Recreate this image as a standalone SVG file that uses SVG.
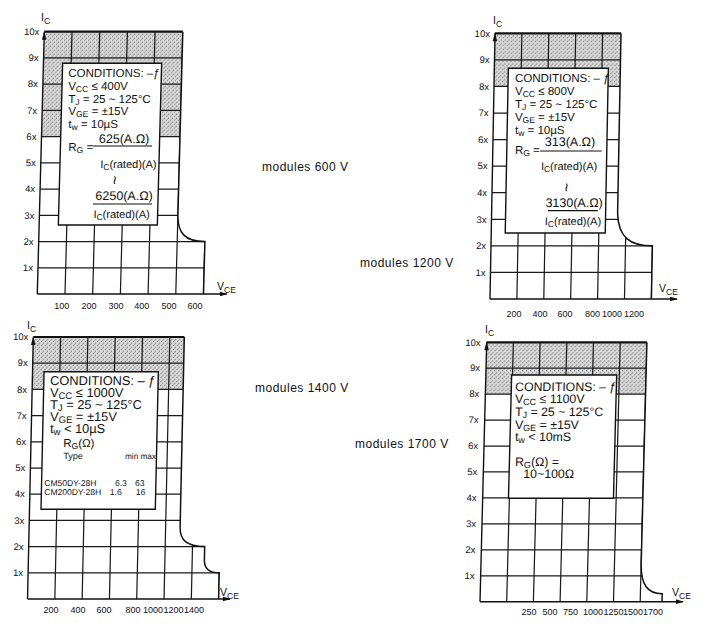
<svg xmlns="http://www.w3.org/2000/svg" width="704" height="628" viewBox="0 0 704 628">
<style>
.ln{stroke:#1a1a1a;stroke-width:1.25;fill:none}
.edge{stroke:#111;stroke-width:1.5;fill:none}
.top{stroke:#111;stroke-width:2.2;fill:none}
.axis{stroke:#111;stroke-width:1.4;fill:none}
.box{fill:#fff;stroke:#111;stroke-width:1.4}
.bar{stroke:#111;stroke-width:1.2;fill:none}
.bt{font-family:"Liberation Sans",Arial,sans-serif;font-size:11.5px;fill:#111}
.big{font-size:12.3px}
.num{font-size:12.5px}
.den{font-size:11px}
.s{font-size:8.5px}
.ax{font-family:"Liberation Sans",Arial,sans-serif;font-size:9.5px;fill:#111}
.xl{font-size:9px}
.yl{text-anchor:end}
.m{text-anchor:middle}
.mod{font-family:"Liberation Sans",Arial,sans-serif;font-size:12px;letter-spacing:.5px;fill:#111}
.til{font-family:"Liberation Sans",Arial,sans-serif;font-size:16px;fill:#111;text-anchor:middle;dominant-baseline:central}
</style>
<defs>
<pattern id="stip" width="4" height="4" patternUnits="userSpaceOnUse">
<rect width="4" height="4" fill="#dbdbdb"/>
<rect x="0" y="0" width="1" height="1" fill="#5c5c5c"/>
<rect x="2" y="2" width="1" height="1" fill="#5c5c5c"/>
<rect x="1" y="3" width="1" height="1" fill="#a0a0a0"/>
</pattern>
<marker id="ah" viewBox="0 0 10 6" refX="9" refY="3" markerWidth="8" markerHeight="5" markerUnits="userSpaceOnUse" orient="auto">
<path d="M0,0 L10,3 L0,6 Z" fill="#111"/>
</marker>
<clipPath id="c1"><path d="M0,0 H138.5 V183 C138.5,201 146,209.84 166.2,209.84 V262.3 H0 Z"/></clipPath>
<clipPath id="c2"><path d="M0,0 H126 V180 C127,204 139,212.56 161.4,212.56 V265.7 H0 Z"/></clipPath>
<clipPath id="c3"><path d="M0,0 H151 V190 C151,203 158,209.6 176,209.6 V223 C176,231 181,235.8 191.1,235.8 V262 H0 Z"/></clipPath>
<clipPath id="c4"><path d="M0,0 H160.2 V222 C160.5,242 167,251.5 182,251.5 V259.4 H0 Z"/></clipPath>
</defs>
<rect width="704" height="628" fill="#fff"/>

<!-- Chart 600 V -->
<g id="soa-600v">
<g transform="translate(44.3,31.7) skewX(-1.53)">
<rect width="200" height="104.92" fill="url(#stip)" clip-path="url(#c1)"/>
<path class="ln" clip-path="url(#c1)" d="M0,26.23H200M0,52.46H200M0,78.69H200M0,104.92H200M0,131.15H200M0,157.38H200M0,183.61H200M0,209.84H200M0,236.07H200M27.7,0V263M55.4,0V263M83.1,0V263M110.8,0V263M138.5,0V263M166.2,0V263"/>
<path class="edge" d="M138.5,0 V183 C138.5,201 146,209.84 166.2,209.84 V262.3"/>
<path class="top" d="M0,0H138.5"/>
<path class="axis" d="M0,262.3V0"/>
<path class="axis" d="M0,262.3H189.5" marker-end="url(#ah)"/>
<path d="M0,-1 L-2.2,8 L2.2,8 Z" fill="#111"/>
<rect class="box" x="19.2" y="31.6" width="99" height="161.7"/>
<text class="bt" x="25.2" y="45.5">CONDITIONS: –ƒ</text>
<text class="bt" x="25.5" y="58">V<tspan class="s" dy="2">CC</tspan><tspan dy="-2"> ≤ 400V</tspan></text>
<text class="bt" x="25.9" y="71">T<tspan class="s" dy="2">J</tspan><tspan dy="-2"> = 25 ~ 125°C</tspan></text>
<text class="bt" x="26.3" y="83.5">V<tspan class="s" dy="2">GE</tspan><tspan dy="-2"> = ±15V</tspan></text>
<text class="bt" x="26.6" y="96">t<tspan class="s" dy="2">w</tspan><tspan dy="-2"> = 10µS</tspan></text>
<text class="bt" x="27.2" y="119.5">R<tspan class="s" dy="2">G</tspan><tspan dy="-2"> =</tspan></text>
<text class="bt num m" x="82.7" y="111.3">625(A.Ω)</text>
<path class="bar" d="M51.8,114.3H110.8"/>
<text class="bt den m" x="87.7" y="136.3">I<tspan class="s" dy="2">C</tspan><tspan dy="-2">(rated)(A)</tspan></text>
<text class="til" transform="translate(74.6,148.5) rotate(90)">~</text>
<text class="bt num m" x="84.2" y="168.3">6250(A.Ω)</text>
<path class="bar" d="M53.3,172.3H112.3"/>
<text class="bt den m" x="82.2" y="186.3">I<tspan class="s" dy="2">C</tspan><tspan dy="-2">(rated)(A)</tspan></text>
<g class="ax yl">
<text x="-5" y="3.3">10x</text><text x="-5" y="29.5">9x</text><text x="-5" y="55.8">8x</text><text x="-5" y="82">7x</text><text x="-5" y="108.2">6x</text><text x="-5" y="134.5">5x</text><text x="-5" y="160.7">4x</text><text x="-5" y="186.9">3x</text><text x="-5" y="213.1">2x</text><text x="-5" y="239.4">1x</text>
</g>
</g>
<text class="bt" x="41" y="21" style="font-size:10.5px">I<tspan class="s" dy="3">C</tspan></text>
<text class="bt" x="217" y="290" style="font-size:10.5px">V<tspan class="s" dy="3">CE</tspan></text>
<g class="ax xl m">
<text x="61.7" y="308.5">100</text><text x="89" y="308.5">200</text><text x="116" y="308.5">300</text><text x="141.7" y="308.5">400</text><text x="169" y="308.5">500</text><text x="195" y="308.5">600</text>
</g>
</g>

<!-- Chart 1200 V -->
<g id="soa-1200v">
<g transform="translate(495,33.3) skewX(-1.08)">
<rect width="200" height="53.14" fill="url(#stip)" clip-path="url(#c2)"/>
<path class="ln" clip-path="url(#c2)" d="M0,26.57H200M0,53.14H200M0,79.71H200M0,106.28H200M0,132.85H200M0,159.42H200M0,185.99H200M0,212.56H200M0,239.13H200M26.9,0V266M53.8,0V266M80.7,0V266M107.6,0V266M134.5,0V266M161.4,0V266"/>
<path class="edge" d="M126,0 V180 C127,204 139,212.56 161.4,212.56 V265.7"/>
<path class="top" d="M0,0H126"/>
<path class="axis" d="M0,265.7V0"/>
<path class="axis" d="M0,265.7H187" marker-end="url(#ah)"/>
<path d="M0,-1 L-2.2,8 L2.2,8 Z" fill="#111"/>
<rect class="box" x="14" y="35" width="100" height="164.7"/>
<text class="bt" x="20.9" y="48.8">CONDITIONS: – ƒ</text>
<text class="bt" x="21.2" y="61.4">V<tspan class="s" dy="2">CC</tspan><tspan dy="-2"> ≤ 800V</tspan></text>
<text class="bt" x="21.4" y="74.6">T<tspan class="s" dy="2">J</tspan><tspan dy="-2"> = 25 ~ 125°C</tspan></text>
<text class="bt" x="21.6" y="87.4">V<tspan class="s" dy="2">GE</tspan><tspan dy="-2"> = ±15V</tspan></text>
<text class="bt" x="21.9" y="100.4">t<tspan class="s" dy="2">w</tspan><tspan dy="-2"> = 10µS</tspan></text>
<text class="bt" x="22.2" y="120.5">R<tspan class="s" dy="2">G</tspan><tspan dy="-2"> =</tspan></text>
<text class="bt num m" x="77.1" y="113">313(A.Ω)</text>
<path class="bar" d="M47.2,117.7H108.9"/>
<text class="bt den m" x="76.6" y="136.7">I<tspan class="s" dy="2">C</tspan><tspan dy="-2">(rated)(A)</tspan></text>
<text class="til" transform="translate(74.5,154) rotate(90)">~</text>
<text class="bt num m" x="82.3" y="173.7">3130(A.Ω)</text>
<path class="bar" d="M56.3,177.4H106.3"/>
<text class="bt den m" x="81.6" y="191.7">I<tspan class="s" dy="2">C</tspan><tspan dy="-2">(rated)(A)</tspan></text>
<g class="ax yl">
<text x="-5" y="3.3">10x</text><text x="-5" y="29.9">9x</text><text x="-5" y="56.4">8x</text><text x="-5" y="83">7x</text><text x="-5" y="109.6">6x</text><text x="-5" y="136.2">5x</text><text x="-5" y="162.7">4x</text><text x="-5" y="189.3">3x</text><text x="-5" y="215.9">2x</text><text x="-5" y="242.4">1x</text>
</g>
</g>
<text class="bt" x="493" y="24" style="font-size:10.5px">I<tspan class="s" dy="3">C</tspan></text>
<text class="bt" x="659" y="292" style="font-size:10.5px">V<tspan class="s" dy="3">CE</tspan></text>
<g class="ax xl m">
<text x="514" y="316.5">200</text><text x="540" y="316.5">400</text><text x="565" y="316.5">600</text><text x="592.5" y="316.5">800</text><text x="612" y="316.5">1000</text><text x="634" y="316.5">1200</text>
</g>
</g>

<!-- Chart 1400 V -->
<g id="soa-1400v">
<g transform="translate(33.3,337) skewX(-1.26)">
<rect width="220" height="52.4" fill="url(#stip)" clip-path="url(#c3)"/>
<path class="ln" clip-path="url(#c3)" d="M0,26.2H220M0,52.4H220M0,78.6H220M0,104.8H220M0,131H220M0,157.2H220M0,183.4H220M0,209.6H220M0,235.8H220M27.3,0V263M54.6,0V263M81.9,0V263M109.2,0V263M136.5,0V263M163.8,0V263M191.1,0V263"/>
<path class="edge" d="M151,0 V190 C151,203 158,209.6 176,209.6 V223 C176,231 181,235.8 191.1,235.8 V262"/>
<path class="top" d="M0,0H151"/>
<path class="axis" d="M0,262V0"/>
<path class="axis" d="M0,262H202.5" marker-end="url(#ah)"/>
<path d="M0,-1 L-2.2,8 L2.2,8 Z" fill="#111"/>
<rect class="box" x="11.5" y="34.7" width="114.3" height="137.6"/>
<text class="bt" x="17.8" y="48.5" style="font-size:12.8px">CONDITIONS: – ƒ</text>
<text class="bt" x="18" y="60.2" style="font-size:12.8px">V<tspan class="s" dy="2" style="font-size:9.5px">CC</tspan><tspan dy="-2"> ≤ 1000V</tspan></text>
<text class="bt" x="18.3" y="72.4" style="font-size:12.8px">T<tspan class="s" dy="2" style="font-size:9.5px">J</tspan><tspan dy="-2"> = 25 ~ 125°C</tspan></text>
<text class="bt" x="18.6" y="84.3" style="font-size:12.8px">V<tspan class="s" dy="2" style="font-size:9.5px">GE</tspan><tspan dy="-2"> = ±15V</tspan></text>
<text class="bt" x="18.8" y="96" style="font-size:12.8px">t<tspan class="s" dy="2" style="font-size:9.5px">w</tspan><tspan dy="-2"> &lt; 10µS</tspan></text>
<text class="bt" x="32.4" y="110.5">R<tspan class="s" dy="2">G</tspan><tspan dy="-2">(Ω)</tspan></text>
<text class="bt" x="32.7" y="122" style="font-size:9px">Type</text>
<text class="bt" x="94.4" y="122" style="font-size:8.2px">min max</text>
<text class="bt" x="14.3" y="149.5" style="font-size:8.5px">CM50DY-28H</text>
<text class="bt" x="85" y="149.5" style="font-size:8.5px">6.3</text>
<text class="bt" x="105" y="149.5" style="font-size:8.5px">63</text>
<text class="bt" x="14.5" y="158.3" style="font-size:8.5px">CM200DY-28H</text>
<text class="bt" x="80" y="158.3" style="font-size:8.5px">1.6</text>
<text class="bt" x="106" y="158.3" style="font-size:8.5px">16</text>
<g class="ax yl">
<text x="-5" y="3.3">10x</text><text x="-5" y="29.5">9x</text><text x="-5" y="55.7">8x</text><text x="-5" y="81.9">7x</text><text x="-5" y="108.1">6x</text><text x="-5" y="134.3">5x</text><text x="-5" y="160.5">4x</text><text x="-5" y="186.7">3x</text><text x="-5" y="212.9">2x</text><text x="-5" y="239.1">1x</text>
</g>
</g>
<text class="bt" x="27" y="329" style="font-size:10.5px">I<tspan class="s" dy="3">C</tspan></text>
<text class="bt" x="220" y="595.7" style="font-size:10.5px">V<tspan class="s" dy="3">CE</tspan></text>
<g class="ax xl m">
<text x="51" y="612.5">200</text><text x="78" y="612.5">400</text><text x="104" y="612.5">600</text><text x="133" y="612.5">800</text><text x="153" y="612.5">1000</text><text x="173.5" y="612.5">1200</text><text x="194" y="612.5">1400</text>
</g>
</g>

<!-- Chart 1700 V -->
<g id="soa-1700v">
<g transform="translate(486.7,342.3) skewX(-1.48)">
<rect width="200" height="51.88" fill="url(#stip)" clip-path="url(#c4)"/>
<path class="ln" clip-path="url(#c4)" d="M0,25.94H200M0,51.88H200M0,77.82H200M0,103.76H200M0,129.7H200M0,155.64H200M0,181.58H200M0,207.52H200M0,233.46H200M26.7,0V260M53.4,0V260M80.1,0V260M106.8,0V260M133.5,0V260M160.2,0V260"/>
<path class="edge" d="M160.2,0 V222 C160.5,242 167,251.5 182,251.5 V259.4"/>
<path class="top" d="M0,0H160.2"/>
<path class="axis" d="M0,259.4V0"/>
<path class="axis" d="M0,259.4H203" marker-end="url(#ah)"/>
<path d="M0,-1 L-2.2,8 L2.2,8 Z" fill="#111"/>
<rect class="box" x="25.8" y="32.7" width="105" height="123.3"/>
<text class="bt big" x="29.6" y="49">CONDITIONS: – ƒ</text>
<text class="bt big" x="29.8" y="60.4">V<tspan class="s" dy="2" style="font-size:9px">CC</tspan><tspan dy="-2"> ≤ 1100V</tspan></text>
<text class="bt big" x="30.2" y="73.4">T<tspan class="s" dy="2" style="font-size:9px">J</tspan><tspan dy="-2"> = 25 ~ 125°C</tspan></text>
<text class="bt big" x="30.5" y="86.5">V<tspan class="s" dy="2" style="font-size:9px">GE</tspan><tspan dy="-2"> = ±15V</tspan></text>
<text class="bt big" x="30.8" y="98.6">t<tspan class="s" dy="2" style="font-size:9px">w</tspan><tspan dy="-2"> &lt; 10mS</tspan></text>
<text class="bt big" x="31.5" y="123.4">R<tspan class="s" dy="2" style="font-size:9px">G</tspan><tspan dy="-2">(Ω) =</tspan></text>
<text class="bt big" x="40.1" y="136">10~100Ω</text>
<g class="ax yl">
<text x="-6" y="3.3">10x</text><text x="-6" y="29.2">9x</text><text x="-6" y="55.2">8x</text><text x="-6" y="81.1">7x</text><text x="-6" y="107.1">6x</text><text x="-6" y="133">5x</text><text x="-6" y="158.9">4x</text><text x="-6" y="184.9">3x</text><text x="-6" y="210.8">2x</text><text x="-6" y="236.8">1x</text>
</g>
</g>
<text class="bt" x="485" y="333" style="font-size:10.5px">I<tspan class="s" dy="3">C</tspan></text>
<text class="bt" x="672" y="596" style="font-size:10.5px">V<tspan class="s" dy="3">CE</tspan></text>
<g class="ax xl m">
<text x="529" y="615">250</text><text x="550" y="615">500</text><text x="570.5" y="615">750</text><text x="593" y="615">1000</text><text x="613.5" y="615">1250</text><text x="633" y="615">1500</text><text x="653" y="615">1700</text>
</g>
</g>

<g id="module-labels">
<text class="mod" x="262" y="171">modules 600 V</text>
<text class="mod" x="360" y="267">modules 1200 V</text>
<text class="mod" x="255" y="392">modules 1400 V</text>
<text class="mod" x="355" y="448">modules 1700 V</text>
</g>
</svg>
